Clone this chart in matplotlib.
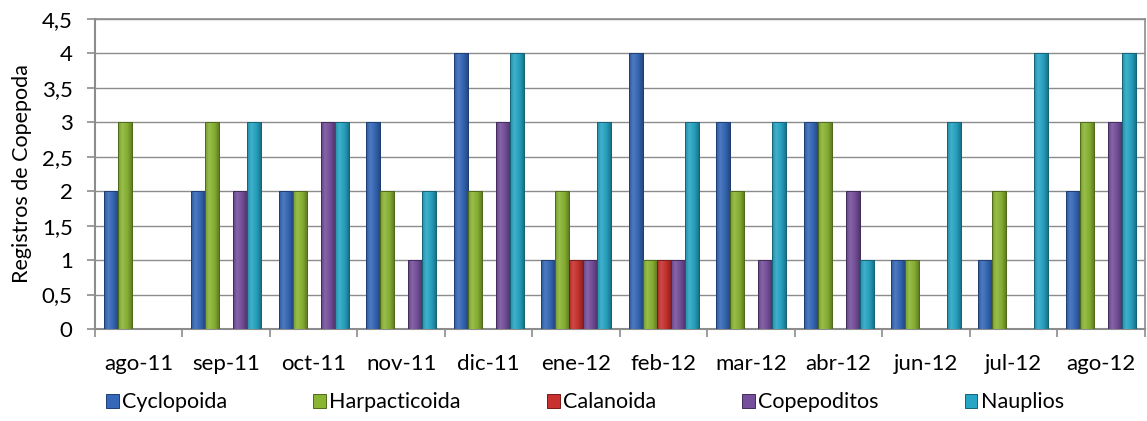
import matplotlib.pyplot as plt
import numpy as np
from matplotlib.colors import LinearSegmentedColormap, to_rgb
from matplotlib.ticker import FuncFormatter, FixedLocator, MultipleLocator

# DATA
months = ['ago-11', 'sep-11', 'oct-11', 'nov-11', 'dic-11', 'ene-12',
          'feb-12', 'mar-12', 'abr-12', 'jun-12', 'jul-12', 'ago-12']
cyclopoida = [2, 2, 2, 3, 4, 1, 4, 3, 3, 1, 1, 2]
harpacticoida = [3, 3, 2, 2, 2, 2, 1, 2, 3, 1, 2, 3]
calanoida = [0, 0, 0, 0, 0, 1, 1, 0, 0, 0, 0, 0]
copepoditos = [0, 2, 3, 1, 3, 1, 1, 1, 2, 0, 0, 3]
nauplios = [0, 3, 3, 2, 4, 3, 3, 3, 1, 3, 4, 4]

series_names = ['Cyclopoida', 'Harpacticoida', 'Calanoida', 'Copepoditos', 'Nauplios']
series_vals = [cyclopoida, harpacticoida, calanoida, copepoditos, nauplios]
colors = ['#3568b8', '#8ab533', '#c8312e', '#754f9c', '#26a5c4']
edges = ['#1d3f75', '#4f6a1a', '#7a1a18', '#432c5c', '#146479']

plt.rcParams['font.family'] = ['Lato', 'DejaVu Sans']


def shade(c, f):
    r = np.array(to_rgb(c))
    if f > 1:
        return tuple(r + (1 - r) * (f - 1))
    return tuple(r * f)


fig = plt.figure(figsize=(11.47, 4.21), dpi=100)
ax = fig.add_axes([0.0828, 0.2185, 0.9152, 0.7365])

x = np.arange(len(months))
bw = 0.16
grad = np.linspace(0, 1, 64).reshape(1, -1)
for i, (name, vals) in enumerate(zip(series_names, series_vals)):
    pos = x + (i - 2) * bw
    bars = ax.bar(pos, vals, width=bw, color=colors[i], edgecolor=edges[i],
                  linewidth=0.7, label=name, zorder=3)
    # horizontal gradient inside every bar (darker edges, lighter centre)
    cmap = LinearSegmentedColormap.from_list(
        name, [(0, shade(colors[i], 0.85)), (0.3, shade(colors[i], 1.12)),
               (0.7, shade(colors[i], 0.95)), (1, shade(colors[i], 0.7))])
    for b in bars:
        if b.get_height() <= 0:
            continue
        bx, by = b.get_x(), b.get_y()
        im = ax.imshow(grad, cmap=cmap, aspect='auto', zorder=3.5,
                       extent=[bx, bx + b.get_width(), by, by + b.get_height()])
        im.set_clip_path(b)
        ax.bar(b.get_x() + b.get_width() / 2, b.get_height(), width=bw,
               fill=False, edgecolor=edges[i], linewidth=0.7, zorder=4)

ax.set_xlim(-0.5, len(months) - 0.5)
ax.set_ylim(0, 4.5)
ax.yaxis.set_major_locator(MultipleLocator(0.5))
ax.yaxis.set_major_formatter(FuncFormatter(
    lambda v, p: ('%g' % v).replace('.', ',')))
ax.grid(axis='y', color='#8c8c8c', linewidth=1.0, zorder=0)

ax.set_xticks(x)
ax.set_xticklabels(months)
ax.xaxis.set_minor_locator(FixedLocator(np.arange(-0.5, len(months), 1.0)))
ax.tick_params(axis='x', which='major', length=0, pad=18, labelsize=16)
ax.tick_params(axis='x', which='minor', length=6, color='#8c8c8c', width=1.2)
ax.tick_params(axis='y', length=6, color='#8c8c8c', width=1.2, labelsize=16, pad=10)

for s in ax.spines.values():
    s.set_color('#8c8c8c')
    s.set_linewidth(1.2)
ax.spines['left'].set_linewidth(1.5)
ax.spines['bottom'].set_linewidth(1.5)

ax.set_ylabel('Registros de Copepoda', fontsize=15.5, labelpad=7)

handles, labels = ax.get_legend_handles_labels()
fig.legend(handles, labels, loc='lower left', ncol=5, frameon=False,
           bbox_to_anchor=(0.085, 0.0, 0.85, 0.1), mode='expand',
           fontsize=15.5, handlelength=0.6, handleheight=0.6,
           handletextpad=0.15, borderaxespad=0.0)

fig.savefig('out.png', dpi=100)
